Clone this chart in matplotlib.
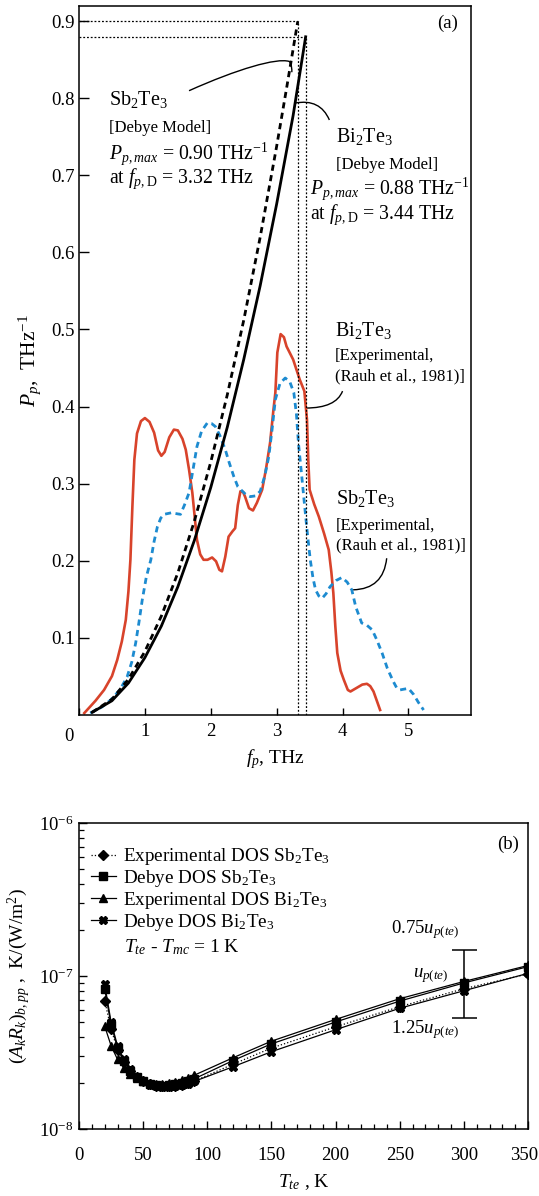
import matplotlib
matplotlib.use("Agg")
import matplotlib.pyplot as plt
from matplotlib.path import Path
from matplotlib.patches import PathPatch
from matplotlib.ticker import LogLocator, NullFormatter, FixedLocator, MultipleLocator

plt.rcParams['font.family'] = ['Liberation Serif', 'DejaVu Serif']
plt.rcParams['mathtext.fontset'] = 'custom'
plt.rcParams['mathtext.rm'] = 'Liberation Serif'
plt.rcParams['mathtext.it'] = 'Liberation Serif:italic'
plt.rcParams['mathtext.bf'] = 'Liberation Serif:bold'

# ---------------- Panel (a) data ----------------
debye_sb_f = [0.2, 0.5, 0.75, 1.0, 1.25, 1.5, 1.75, 2.0, 2.25, 2.5, 2.75, 3.0, 3.15, 3.32]
debye_sb_p = [0.003, 0.020, 0.046, 0.082, 0.128, 0.184, 0.251, 0.328, 0.415, 0.512, 0.620, 0.738, 0.813, 0.900]
debye_bi_f = [0.2, 0.5, 0.75, 1.0, 1.25, 1.5, 1.75, 2.0, 2.25, 2.5, 2.75, 3.0, 3.25, 3.44]
debye_bi_p = [0.003, 0.018, 0.041, 0.074, 0.115, 0.166, 0.226, 0.295, 0.373, 0.461, 0.557, 0.663, 0.778, 0.880]

exp_bi_f = [0.08, 0.25, 0.38, 0.50, 0.58, 0.65, 0.71, 0.75, 0.78, 0.81, 0.84, 0.88, 0.94, 1.00,
            1.07, 1.14, 1.20, 1.25, 1.30, 1.37, 1.44, 1.50, 1.57, 1.62, 1.67, 1.72, 1.79, 1.84,
            1.89, 1.95, 2.02, 2.08, 2.13, 2.17, 2.22, 2.27, 2.33, 2.37, 2.41, 2.45, 2.49, 2.52,
            2.58, 2.64, 2.70, 2.78, 2.84, 2.90, 2.95, 2.98, 3.01, 3.06, 3.11, 3.15, 3.25, 3.35,
            3.42, 3.46, 3.48, 3.50, 3.57, 3.64, 3.72, 3.79, 3.83, 3.86, 3.89, 3.92, 3.97, 4.02,
            4.08, 4.12, 4.20, 4.30, 4.37, 4.42, 4.47, 4.52, 4.57]
exp_bi_p = [0.002, 0.018, 0.032, 0.050, 0.071, 0.095, 0.123, 0.160, 0.201, 0.270, 0.331, 0.365, 0.381, 0.385,
            0.380, 0.366, 0.343, 0.336, 0.341, 0.360, 0.370, 0.369, 0.358, 0.344, 0.318, 0.288, 0.227, 0.208,
            0.201, 0.201, 0.204, 0.199, 0.188, 0.186, 0.205, 0.231, 0.238, 0.242, 0.272, 0.290, 0.289, 0.283,
            0.268, 0.265, 0.275, 0.292, 0.320, 0.353, 0.395, 0.418, 0.470, 0.494, 0.490, 0.478, 0.461, 0.435,
            0.420, 0.383, 0.330, 0.292, 0.273, 0.257, 0.235, 0.214, 0.185, 0.158, 0.115, 0.080, 0.057, 0.045,
            0.032, 0.030, 0.034, 0.039, 0.040, 0.037, 0.030, 0.018, 0.006]

exp_sb_f = [0.17, 0.35, 0.48, 0.62, 0.73, 0.80, 0.86, 0.91, 0.96, 1.02, 1.09, 1.14, 1.19, 1.24,
            1.29, 1.40, 1.54, 1.60, 1.67, 1.73, 1.79, 1.86, 1.95, 2.01, 2.07, 2.14, 2.22, 2.28,
            2.35, 2.41, 2.48, 2.54, 2.60, 2.68, 2.75, 2.82, 2.88, 2.93, 2.98, 3.05, 3.13, 3.20,
            3.26, 3.30, 3.33, 3.38, 3.43, 3.47, 3.51, 3.55, 3.59, 3.64, 3.69, 3.75, 3.81, 3.90,
            3.99, 4.07, 4.14, 4.20, 4.29, 4.37, 4.45, 4.52, 4.60, 4.68, 4.77, 4.82, 4.87, 4.93,
            5.00, 5.08, 5.15, 5.23]
exp_sb_p = [0.002, 0.010, 0.019, 0.032, 0.049, 0.068, 0.093, 0.120, 0.149, 0.178, 0.201, 0.225, 0.244, 0.255,
            0.260, 0.262, 0.260, 0.272, 0.288, 0.318, 0.348, 0.368, 0.379, 0.378, 0.374, 0.362, 0.344, 0.327,
            0.309, 0.296, 0.290, 0.285, 0.283, 0.284, 0.290, 0.310, 0.335, 0.370, 0.409, 0.430, 0.437, 0.432,
            0.418, 0.390, 0.353, 0.310, 0.266, 0.232, 0.201, 0.178, 0.162, 0.154, 0.151, 0.157, 0.166, 0.174,
            0.178, 0.172, 0.162, 0.140, 0.119, 0.116, 0.110, 0.097, 0.080, 0.060, 0.043, 0.035, 0.032, 0.033,
            0.034, 0.026, 0.016, 0.006]

fD_sb, Pmax_sb = 3.32, 0.90
fD_bi, Pmax_bi = 3.44, 0.88

# ---------------- Panel (b) data ----------------
T_te = [20, 25, 30, 35, 40, 45, 50, 55, 60, 65, 70, 75, 80, 85, 90, 120, 150, 200, 250, 300, 350]
exp_sb_R = [6.9e-8, 4.5e-8, 3.3e-8, 2.75e-8, 2.4e-8, 2.2e-8, 2.05e-8, 1.96e-8, 1.92e-8, 1.90e-8, 1.90e-8,
            1.92e-8, 1.95e-8, 2.0e-8, 2.06e-8, 2.65e-8, 3.38e-8, 4.65e-8, 6.3e-8, 8.25e-8, 1.03e-7]
debye_sb_R = [8.2e-8, 4.8e-8, 3.4e-8, 2.8e-8, 2.4e-8, 2.2e-8, 2.05e-8, 1.97e-8, 1.93e-8, 1.92e-8, 1.93e-8,
              1.96e-8, 2.0e-8, 2.06e-8, 2.13e-8, 2.8e-8, 3.6e-8, 5.0e-8, 6.85e-8, 9.0e-8, 1.15e-7]
exp_bi_R = [4.7e-8, 3.5e-8, 2.85e-8, 2.5e-8, 2.3e-8, 2.15e-8, 2.05e-8, 2.0e-8, 1.98e-8, 1.98e-8, 2.0e-8,
            2.04e-8, 2.1e-8, 2.17e-8, 2.25e-8, 2.92e-8, 3.75e-8, 5.2e-8, 7.1e-8, 9.2e-8, 1.17e-7]
debye_bi_R = [8.8e-8, 5.0e-8, 3.5e-8, 2.85e-8, 2.45e-8, 2.2e-8, 2.05e-8, 1.95e-8, 1.9e-8, 1.88e-8, 1.88e-8,
              1.9e-8, 1.93e-8, 1.98e-8, 2.05e-8, 2.55e-8, 3.2e-8, 4.45e-8, 6.15e-8, 8.0e-8, 1.04e-7]
err_T, err_center, err_low, err_high = 300, 9.0e-8, 5.35e-8, 1.48e-7
xticks_b = [0, 50, 100, 150, 200, 250, 300, 350]

# ---------------- Figure ----------------
fig = plt.figure(figsize=(5.39, 11.96), dpi=100)
axa = fig.add_axes([0.1466, 0.4025, 0.7273, 0.5925])
axb = fig.add_axes([0.1466, 0.0560, 0.8330, 0.2560])

red = '#d8432b'
blue = '#1d8bd0'

axa.plot(exp_bi_f, exp_bi_p, color=red, lw=1.9, solid_joinstyle='round')
axa.plot(exp_sb_f, exp_sb_p, color=blue, lw=2.0, ls=(0, (2.2, 1.6)))
axa.plot(debye_bi_f, debye_bi_p, color='black', lw=2.0)
axa.plot(debye_sb_f, debye_sb_p, color='black', lw=2.0, ls=(0, (2.2, 1.6)))

# dotted reference lines
for fD, Pm in [(fD_sb, Pmax_sb), (fD_bi, Pmax_bi)]:
    axa.plot([0, fD], [Pm, Pm], color='black', lw=0.9, ls=(0, (1.5, 1.5)))
    axa.plot([fD, fD], [0, Pm], color='black', lw=0.9, ls=(0, (1.5, 1.5)))

axa.set_xlim(0, 5.95)
axa.set_ylim(0, 0.92)
axa.set_xticks([0, 1, 2, 3, 4, 5])
axa.set_xticklabels(['', '1', '2', '3', '4', '5'])
axa.set_yticks([0.1, 0.2, 0.3, 0.4, 0.5, 0.6, 0.7, 0.8, 0.9])
axa.set_yticklabels(['0.1', '0.2', '0.3', '0.4', '0.5', '0.6', '0.7', '0.8', '0.9'])
axa.tick_params(axis='y', direction='in', length=7, width=1.0, labelsize=13.5, pad=3)
axa.tick_params(axis='x', direction='in', length=5, width=1.0, labelsize=13.5, pad=6)
axa.text(-0.15, -0.028, '0', fontsize=13.5, ha='center', va='center')
for s in axa.spines.values():
    s.set_linewidth(1.1)
axa.set_xlabel('$f_p$, THz', fontsize=14, labelpad=5)
axa.set_ylabel('$P_p$,  THz$^{\\mathrm{-1}}$', fontsize=15.5, labelpad=6)

axa.text(5.59, 0.898, '(a)', fontsize=13.5, ha='center', va='center')

big, mid, small = 14.5, 14.2, 12
axa.text(0.45, 0.791, 'Sb$_2$Te$_3$', fontsize=big, va='baseline')
axa.text(0.45, 0.757, '[Debye Model]', fontsize=small, va='baseline')
axa.text(0.45, 0.722, '$P_{p,max}$ = 0.90 THz$^{\\mathrm{-1}}$', fontsize=mid, va='baseline')
axa.text(0.45, 0.690, 'at $f_{p,\\mathrm{D}}$ = 3.32 THz', fontsize=mid, va='baseline')

axa.text(3.90, 0.743, 'Bi$_2$Te$_3$', fontsize=big, va='baseline')
axa.text(3.90, 0.709, '[Debye Model]', fontsize=small, va='baseline')
axa.text(3.51, 0.676, '$P_{p,max}$ = 0.88 THz$^{\\mathrm{-1}}$', fontsize=mid, va='baseline')
axa.text(3.51, 0.643, 'at $f_{p,\\mathrm{D}}$ = 3.44 THz', fontsize=mid, va='baseline')

axa.text(3.88, 0.491, 'Bi$_2$Te$_3$', fontsize=big, va='baseline')
axa.text(3.88, 0.460, '[Experimental,', fontsize=small, va='baseline')
axa.text(3.88, 0.434, '(Rauh et al., 1981)]', fontsize=small, va='baseline')

axa.text(3.90, 0.273, 'Sb$_2$Te$_3$', fontsize=big, va='baseline')
axa.text(3.90, 0.240, '[Experimental,', fontsize=small, va='baseline')
axa.text(3.90, 0.214, '(Rauh et al., 1981)]', fontsize=small, va='baseline')

def leader(ax, verts, codes):
    ax.add_patch(PathPatch(Path(verts, codes), fc='none', ec='black', lw=1.0))

leader(axa, [(1.67, 0.810), (2.4, 0.838), (3.0, 0.853), (3.19, 0.848), (3.23, 0.845), (3.23, 0.838), (3.23, 0.834)],
       [Path.MOVETO, Path.CURVE4, Path.CURVE4, Path.CURVE4, Path.CURVE4, Path.CURVE4, Path.CURVE4])
leader(axa, [(3.80, 0.772), (3.66, 0.800), (3.28, 0.794)], [Path.MOVETO, Path.CURVE3, Path.CURVE3])
leader(axa, [(4.00, 0.420), (3.90, 0.398), (3.44, 0.398)], [Path.MOVETO, Path.CURVE3, Path.CURVE3])
leader(axa, [(4.67, 0.203), (4.62, 0.163), (4.16, 0.162)], [Path.MOVETO, Path.CURVE3, Path.CURVE3])

# ---------------- Panel (b) ----------------
ms = 5.2
axb.plot(T_te, exp_sb_R, color='black', lw=0.9, ls=':', marker='D', ms=4.6, label='Experimental DOS Sb$_2$Te$_3$')
axb.plot(T_te, debye_sb_R, color='black', lw=0.9, marker='s', ms=ms, label='Debye DOS Sb$_2$Te$_3$')
axb.plot(T_te, exp_bi_R, color='black', lw=0.9, marker='^', ms=ms + 0.6, label='Experimental DOS Bi$_2$Te$_3$')
axb.plot(T_te, debye_bi_R, color='black', lw=0.9, marker='X', ms=ms, label='Debye DOS Bi$_2$Te$_3$')

axb.errorbar([err_T], [err_center], yerr=[[err_center - err_low], [err_high - err_center]],
             fmt='none', ecolor='black', elinewidth=1.1, capsize=9, capthick=1.1)

axb.set_yscale('log')
axb.set_xlim(0, 350)
axb.set_ylim(1e-8, 1e-6)
axb.set_xticks(xticks_b)
axb.set_xticklabels([str(t) for t in xticks_b[:-1]] + [''])
axb.xaxis.set_minor_locator(MultipleLocator(10))
axb.yaxis.set_major_locator(FixedLocator([1e-8, 1e-7, 1e-6]))
axb.yaxis.set_minor_locator(LogLocator(base=10, subs=range(2, 10)))
axb.yaxis.set_minor_formatter(NullFormatter())
axb.set_yticklabels(['10$^{\\mathrm{-8}}$', '10$^{\\mathrm{-7}}$', '10$^{\\mathrm{-6}}$'])
axb.tick_params(which='major', direction='in', length=6, width=1.0, labelsize=13.5)
axb.tick_params(axis='x', which='major', pad=13)
axb.tick_params(which='minor', direction='in', length=3.5, width=0.9)
axb.tick_params(axis='y', which='both', pad=4)
axb.annotate(str(xticks_b[-1]), xy=(1, 0), xycoords='axes fraction', xytext=(-3, -13),
             textcoords='offset points', ha='center', va='top', fontsize=13.5)
for s in axb.spines.values():
    s.set_linewidth(1.1)
axb.set_xlabel('$T_{te}$ , K', fontsize=14, labelpad=6)
axb.set_ylabel('$(A_kR_k)_{b,pp}$ ,  K/(W/m$^2$)', fontsize=14, labelpad=4)

leg = axb.legend(loc='upper left', bbox_to_anchor=(-0.012, 0.98), frameon=False, fontsize=13.8,
                 handlelength=1.3, handletextpad=0.35, labelspacing=0.05, borderaxespad=0.5)
axb.text(0.10, 0.577, '$T_{te}$ - $T_{mc}$ = 1 K', transform=axb.transAxes, fontsize=14, va='baseline')
axb.text(0.955, 0.93, '(b)', transform=axb.transAxes, fontsize=13.5, ha='center', va='center')

axb.text(270, 1.9e-7, '0.75$u_{p(te)}$', fontsize=13.5, ha='center', va='baseline')
axb.text(288, 1.0e-7, '$u_{p(te)}$', fontsize=13.5, ha='right', va='center')
axb.text(270, 4.45e-8, '1.25$u_{p(te)}$', fontsize=13.5, ha='center', va='center')

fig.savefig('out.png', dpi=100)
